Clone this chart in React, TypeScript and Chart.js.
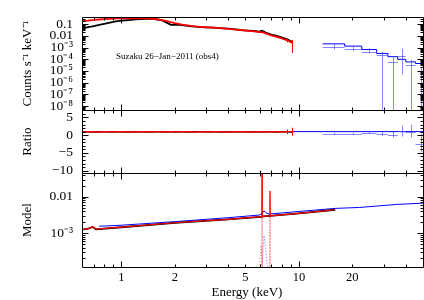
import React, { useEffect, useRef } from 'react';
import { Chart, registerables } from 'chart.js';

Chart.register(...registerables);

const SERIF = "'Liberation Serif', 'Times New Roman', Times, serif";

// ---------- XIS spectra (counts s^-1 keV^-1) ----------
const xisEnergy = [0.6, 0.65, 0.7, 0.75, 0.8, 0.85, 0.9, 0.95, 1.0, 1.1, 1.2, 1.3, 1.4, 1.5, 1.6, 1.7, 1.8, 1.9, 2.0, 2.2, 2.4, 2.6, 2.8, 3.0, 3.3, 3.6, 4.0, 4.4, 4.8, 5.2, 5.6, 6.0, 6.2, 6.5, 7.0, 7.5, 8.0, 8.6, 9.2];
const xisFiCounts = [0.042, 0.056, 0.068, 0.086, 0.106, 0.129, 0.153, 0.179, 0.197, 0.225, 0.254, 0.275, 0.28, 0.28, 0.25, 0.205, 0.134, 0.087, 0.091, 0.082, 0.068, 0.062, 0.056, 0.053, 0.05, 0.046, 0.041, 0.036, 0.031, 0.028, 0.026, 0.023, 0.027, 0.019, 0.013, 0.0097, 0.0073, 0.005, 0.003];
const xisBiCounts = [0.18, 0.2, 0.23, 0.25, 0.27, 0.29, 0.3, 0.31, 0.32, 0.32, 0.32, 0.315, 0.31, 0.29, 0.255, 0.217, 0.185, 0.148, 0.121, 0.091, 0.075, 0.064, 0.058, 0.054, 0.051, 0.046, 0.04, 0.034, 0.03, 0.0267, 0.0238, 0.0211, 0.021, 0.0165, 0.0107, 0.008, 0.006, 0.0041, 0.0025];
const xisFiRatio = [0.95, 1.0, 0.9, 0.95, 1.0, 0.9, 0.95, 1.0, 0.95, 0.9, 1.0, 0.95, 0.9, 1.0, 0.95, 1.0, 0.9, 0.95, 1.0, 0.95, 0.9, 1.0, 0.95, 0.95, 1.0, 0.9, 0.95, 1.0, 0.95, 0.9, 1.0, 0.95, 0.9, 1.0, 0.95, 0.9, 1.0, 0.95, 0.9];
const xisBiRatio = [0.9, 0.95, 1.0, 0.9, 0.95, 1.0, 0.9, 0.95, 1.0, 0.95, 0.9, 1.0, 0.95, 0.9, 1.0, 0.9, 0.95, 1.0, 0.9, 1.0, 0.95, 0.9, 1.0, 0.9, 0.95, 1.0, 0.9, 0.95, 1.0, 0.95, 0.9, 1.0, 0.95, 0.9, 1.0, 0.95, 0.9, 1.0, 1.0];
// large error bars on the last BI bins
const biTailEnergy = [8.6, 9.2];
const biTailLo = [0.0028, 0.00035];
const biTailHi = [0.006, 0.0045];
const biTailRatioLo = [0.3, -0.1];
const biTailRatioHi = [1.6, 2.1];

// ---------- HXD/PIN spectrum ----------
const pinBinLo = [13.6, 18.1, 22.6, 27.4, 31.7, 36.0, 40.0, 45.4];
const pinBinHi = [18.1, 22.6, 27.4, 31.7, 36.0, 40.0, 45.4, 52.0];
const pinModelCounts = [2.06e-3, 1.32e-3, 6.8e-4, 3.1e-4, 1.65e-4, 9.8e-5, 5.9e-5, 4.3e-5];
const pinCounts = [1.15e-3, 7.8e-4, 4.4e-4, 2.45e-4, 6.3e-5, 2.0e-4, 3.5e-5, -2e-5];
const pinCountsLo = [7e-4, 5e-4, 3.1e-4, 0, 0, 5e-6, 0, 0];
const pinCountsHi = [2.0e-3, 1.3e-3, 9.4e-4, 4.4e-4, 1.4e-4, 7.8e-4, 9e-5, 2e-5];
const pinRatio = [0.44, 0.44, 0.64, 0.36, 0.08, 1.28, 1.0, -2.4];
const pinRatioLo = [0.15, 0.2, 0.3, -0.3, -0.7, -0.39, -0.67, -4.8];
const pinRatioHi = [0.75, 0.7, 1.0, 1.08, 0.9, 2.67, 2.94, 0.44];

// ---------- Unfolded model (lower panel) ----------
const fiModelEnergy = [0.6, 0.65, 0.69, 0.72, 1.0, 2.0, 4.0, 6.1, 6.3, 6.9, 8.0, 10, 16];
const fiModel = [1.24e-3, 1.32e-3, 1.48e-3, 1.27e-3, 1.45e-3, 1.92e-3, 2.38e-3, 2.8e-3, 2.88e-3, 3.0e-3, 3.2e-3, 3.5e-3, 4.4e-3];
const biModelEnergy = [0.6, 0.65, 0.69, 0.72, 1.0, 2.0, 4.0, 6.1, 6.18, 6.2, 6.22, 6.3, 6.84, 6.87, 6.9, 8.0, 10, 16];
const biModel = [1.25e-3, 1.33e-3, 1.5e-3, 1.28e-3, 1.46e-3, 1.93e-3, 2.4e-3, 2.83e-3, 2.85e-3, 0.043, 2.86e-3, 2.9e-3, 3.0e-3, 0.0146, 3.0e-3, 3.2e-3, 3.5e-3, 4.4e-3];
const pinModelEnergy = [0.75, 1.0, 2.0, 4.0, 6.0, 6.2, 6.36, 6.55, 6.8, 10, 16, 22, 36, 50];
const pinModel = [1.54e-3, 1.65e-3, 2.07e-3, 2.66e-3, 3.15e-3, 3.5e-3, 4.1e-3, 3.6e-3, 3.35e-3, 3.95e-3, 4.8e-3, 5.1e-3, 6.2e-3, 6.7e-3];
const biLineCompEnergy = [6.17, 6.2, 6.23, 6.84, 6.87, 6.9];
const biLineComp = [5e-5, 0.043, 5e-5, 5e-5, 0.0146, 5e-5];
const biBroadCompEnergy = [5.9, 6.12, 6.3];
const biBroadComp = [5e-5, 4.6e-4, 5e-5];
const pinBroadCompEnergy = [6.12, 6.36, 6.8];
const pinBroadComp = [5e-5, 8.5e-4, 5e-5];

// ---------- Axes ----------
const energyTicks = [1, 2, 5, 10, 20];
const energyTickLabels = ['1', '2', '5', '10', '20'];
const energyMinorTicks = [0.7, 0.8, 0.9, 2, 3, 4, 5, 6, 7, 8, 9, 20, 30, 40];
const energyMajorTicks = [1, 10];
const countsTicks = [1e-8, 1e-7, 1e-6, 1e-5, 1e-4, 1e-3, 0.01, 0.1];
const countsTickLabels = ['10\u207B\u2078', '10\u207B\u2077', '10\u207B\u2076', '10\u207B\u2075', '10\u207B\u2074', '10\u207B\u00B3', '0.01', '0.1'];
const ratioTicks = [-10, -5, 0, 5];
const ratioTickLabels = ['\u221210', '\u22125', '0', '5'];
const ratioMinorStep = 1;
const modelTicks = [1e-3, 0.01];
const modelTickLabels = ['10\u207B\u00B3', '0.01'];

const annotation = 'Suzaku 26\u2212Jan\u22122011 (obs4)';

const pts = (xs: number[], ys: number[]) => xs.map((x, i) => ({ x, y: ys[i] }));
const stepPts = (lo: number[], hi: number[], ys: number[]) => {
  const out = lo.map((x, i) => ({ x, y: ys[i] }));
  out.push({ x: hi[hi.length - 1], y: ys[ys.length - 1] });
  return out;
};

const BLUE = '#0000ff';
const BLUE_DATA = 'rgba(70,70,255,0.65)';

function pixY(scale: any, v: number) {
  if (scale.type === 'logarithmic' && v <= 0) return scale.bottom + 20;
  return scale.getPixelForValue(v);
}

const errorBarPlugin = {
  id: 'errorBars',
  afterDatasetsDraw(chart: any) {
    const { ctx } = chart;
    const xs = chart.scales.x;
    const yTop = chart.scales.yTop;
    const yRatio = chart.scales.yRatio;
    const clip = (ys: any) => {
      ctx.beginPath();
      ctx.rect(xs.left, ys.top, xs.right - xs.left, ys.bottom - ys.top);
      ctx.clip();
    };
    const cross = (ys: any, lo: number, hi: number, v: number, eLo: number, eHi: number, color: string) => {
      const xc = xs.getPixelForValue(Math.sqrt(lo * hi));
      ctx.strokeStyle = color;
      ctx.lineWidth = 1;
      ctx.beginPath();
      if (!(ys.type === 'logarithmic' && v <= 0)) {
        const yv = Math.round(pixY(ys, v)) + 0.5;
        ctx.moveTo(xs.getPixelForValue(lo), yv);
        ctx.lineTo(xs.getPixelForValue(hi), yv);
      }
      if (!(ys.type === 'logarithmic' && eHi <= 0)) {
        const xr = Math.round(xc) + 0.5;
        ctx.moveTo(xr, pixY(ys, eHi));
        ctx.lineTo(xr, pixY(ys, eLo));
      }
      ctx.stroke();
    };
    ctx.save();
    clip(yTop);
    pinBinLo.forEach((lo, i) => cross(yTop, lo, pinBinHi[i], pinCounts[i], pinCountsLo[i], pinCountsHi[i], BLUE_DATA));
    biTailEnergy.forEach((e, i) => {
      const xr = Math.round(xs.getPixelForValue(e)) + 0.5;
      ctx.strokeStyle = '#ff0000';
      ctx.lineWidth = 1;
      ctx.beginPath();
      ctx.moveTo(xr, pixY(yTop, biTailHi[i]));
      ctx.lineTo(xr, pixY(yTop, biTailLo[i]));
      ctx.stroke();
    });
    ctx.restore();
    ctx.save();
    clip(yRatio);
    pinBinLo.forEach((lo, i) => cross(yRatio, lo, pinBinHi[i], pinRatio[i], pinRatioLo[i], pinRatioHi[i], BLUE_DATA));
    biTailEnergy.forEach((e, i) => {
      const xr = Math.round(xs.getPixelForValue(e)) + 0.5;
      ctx.strokeStyle = '#ff0000';
      ctx.lineWidth = 1;
      ctx.beginPath();
      ctx.moveTo(xr, pixY(yRatio, biTailRatioHi[i]));
      ctx.lineTo(xr, pixY(yRatio, biTailRatioLo[i]));
      ctx.stroke();
    });
    ctx.restore();
  },
};

function logMinors(min: number, max: number) {
  const out: number[] = [];
  for (let e = Math.floor(Math.log10(min)); e <= Math.ceil(Math.log10(max)); e++) {
    for (let m = 2; m <= 9; m++) {
      const v = m * Math.pow(10, e);
      if (v > min && v < max) out.push(v);
    }
  }
  return out;
}

const framePlugin = {
  id: 'frame',
  afterDraw(chart: any) {
    const { ctx } = chart;
    const xs = chart.scales.x;
    const panels = [
      { s: chart.scales.yTop, major: countsTicks, minor: logMinors(chart.scales.yTop.min, chart.scales.yTop.max) },
      { s: chart.scales.yRatio, major: ratioTicks, minor: [] as number[] },
      { s: chart.scales.yModel, major: modelTicks, minor: logMinors(chart.scales.yModel.min, chart.scales.yModel.max) },
    ];
    const rMin = chart.scales.yRatio.min;
    const rMax = chart.scales.yRatio.max;
    for (let v = Math.ceil(rMin); v <= rMax; v += ratioMinorStep) {
      if (!ratioTicks.includes(v)) panels[1].minor.push(v);
    }
    const L = Math.round(xs.left) + 0.5;
    const R = Math.round(xs.right) + 0.5;
    ctx.save();
    ctx.strokeStyle = '#000';
    ctx.lineWidth = 1;
    ctx.beginPath();
    for (const p of panels) {
      const T = Math.round(p.s.top) + 0.5;
      const B = Math.round(p.s.bottom) + 0.5;
      ctx.moveTo(L, T); ctx.lineTo(R, T); ctx.lineTo(R, B); ctx.lineTo(L, B); ctx.closePath();
      const xt = (v: number, len: number) => {
        const px = Math.round(xs.getPixelForValue(v)) + 0.5;
        ctx.moveTo(px, T); ctx.lineTo(px, T + len);
        ctx.moveTo(px, B); ctx.lineTo(px, B - len);
      };
      energyMajorTicks.forEach((v) => xt(v, 6));
      energyMinorTicks.forEach((v) => xt(v, 3));
      const yt = (v: number, len: number) => {
        const py = Math.round(p.s.getPixelForValue(v)) + 0.5;
        if (py < T || py > B) return;
        ctx.moveTo(L, py); ctx.lineTo(L + len, py);
        ctx.moveTo(R, py); ctx.lineTo(R - len, py);
      };
      p.major.forEach((v: number) => yt(v, 6));
      p.minor.forEach((v: number) => yt(v, 3));
    }
    ctx.stroke();
    ctx.fillStyle = '#000';
    ctx.font = `9px ${SERIF}`;
    ctx.textAlign = 'left';
    ctx.textBaseline = 'middle';
    ctx.fillText(annotation, 116, 57);
    ctx.font = `13px ${SERIF}`;
    ctx.textAlign = 'center';
    ctx.fillText('Energy (keV)', 247, 293);
    ctx.restore();
  },
};

const xTickFont = { family: SERIF, size: 12.5 };
const yTickFont = { family: SERIF, size: 13.5 };
const titleFont = { family: SERIF, size: 13 };

function yAxis(extra: any) {
  return {
    position: 'left',
    stack: 'panels',
    grid: { display: false, drawTicks: false },
    border: { display: false },
    afterFit: (s: any) => { s.width = 82; },
    ...extra,
  };
}

export default function App() {
  const ref = useRef<HTMLCanvasElement>(null);
  useEffect(() => {
    if (!ref.current) return;
    const line = (data: any[], color: string, yAxisID: string, extra: any = {}) => ({
      data, borderColor: color, backgroundColor: color, yAxisID, xAxisID: 'x',
      pointRadius: 0, borderWidth: 1, fill: false, tension: 0, ...extra,
    });
    const chart = new Chart(ref.current, {
      type: 'line',
      data: {
        datasets: [
          line(pts(xisEnergy, xisBiCounts), '#ff0000', 'yTop', { borderWidth: 1.8 }),
          line(pts(xisEnergy, xisFiCounts), '#000000', 'yTop', { borderWidth: 1.8 }),
          line(stepPts(pinBinLo, pinBinHi, pinModelCounts), BLUE, 'yTop', { stepped: 'before' }),
          line(pts(xisEnergy, xisBiRatio), '#ff0000', 'yRatio', { borderWidth: 1.4 }),
          line(pts(xisEnergy, xisFiRatio), '#000000', 'yRatio', { borderWidth: 1.4 }),
          line([{ x: 0.6, y: 1 }, { x: 50, y: 1 }], BLUE, 'yRatio'),
          line(pts(biModelEnergy, biModel), '#ff0000', 'yModel', { borderWidth: 1.2 }),
          line(pts(fiModelEnergy, fiModel), '#000000', 'yModel', { borderWidth: 1.8 }),
          line(pts(pinModelEnergy, pinModel), BLUE, 'yModel', { borderWidth: 1 }),
          line(pts(biLineCompEnergy, biLineComp), 'rgba(255,0,0,0.55)', 'yModel', { borderDash: [1.5, 1.5] }),
          line(pts(biBroadCompEnergy, biBroadComp), 'rgba(255,80,80,0.5)', 'yModel', { borderDash: [1.5, 1.5] }),
          line(pts(pinBroadCompEnergy, pinBroadComp), 'rgba(80,80,255,0.55)', 'yModel', { borderDash: [1.5, 1.5] }),
        ],
      },
      options: {
        animation: false,
        responsive: false,
        maintainAspectRatio: false,
        devicePixelRatio: 1,
        layout: { padding: { top: 14, right: 1, left: 0, bottom: 0 } },
        plugins: { legend: { display: false }, tooltip: { enabled: false } },
        scales: {
          x: {
            type: 'logarithmic', position: 'bottom', min: 0.6, max: 50,
            grid: { display: false, drawTicks: false }, border: { display: false },
            afterBuildTicks: (s: any) => { s.ticks = energyTicks.map((v) => ({ value: v })); },
            afterFit: (s: any) => { s.height = 33; },
            ticks: {
              autoSkip: false, maxRotation: 0, color: '#000', font: xTickFont, padding: 3,
              callback: (_v: any, i: number) => energyTickLabels[i],
            },
          },
          yModel: yAxis({
            type: 'logarithmic', min: 1.16e-4, max: 0.045, stackWeight: 95,
            afterBuildTicks: (s: any) => { s.ticks = modelTicks.map((v) => ({ value: v })); },
            ticks: { autoSkip: false, color: '#000', font: yTickFont, padding: 9, callback: (_v: any, i: number) => modelTickLabels[i] },
            title: { display: true, text: 'Model', color: '#000', font: titleFont, padding: { top: 20, bottom: 0 } },
          }),
          yRatio: yAxis({
            type: 'linear', min: -10.7, max: 7.1, stackWeight: 64,
            afterBuildTicks: (s: any) => { s.ticks = ratioTicks.map((v) => ({ value: v })); },
            ticks: { autoSkip: false, color: '#000', font: yTickFont, padding: 9, callback: (_v: any, i: number) => ratioTickLabels[i] },
            title: { display: true, text: 'Ratio', color: '#000', font: titleFont, padding: { top: 20, bottom: 0 } },
          }),
          yTop: yAxis({
            type: 'logarithmic', min: 4.6e-9, max: 0.4, stackWeight: 94,
            afterBuildTicks: (s: any) => { s.ticks = countsTicks.map((v) => ({ value: v })); },
            ticks: { autoSkip: false, color: '#000', font: yTickFont, padding: 9, callback: (_v: any, i: number) => countsTickLabels[i] },
            title: { display: true, text: 'Counts s\u207B\u00B9 keV\u207B\u00B9', color: '#000', font: titleFont, padding: { top: 20, bottom: 0 } },
          }),
        },
      } as any,
      plugins: [errorBarPlugin, framePlugin],
    });
    return () => chart.destroy();
  }, []);
  return (
    <div style={{ position: 'fixed', left: 0, top: 0, width: 424, height: 300, background: '#fff' }}>
      <canvas ref={ref} width={424} height={300} style={{ display: 'block' }} />
    </div>
  );
}
